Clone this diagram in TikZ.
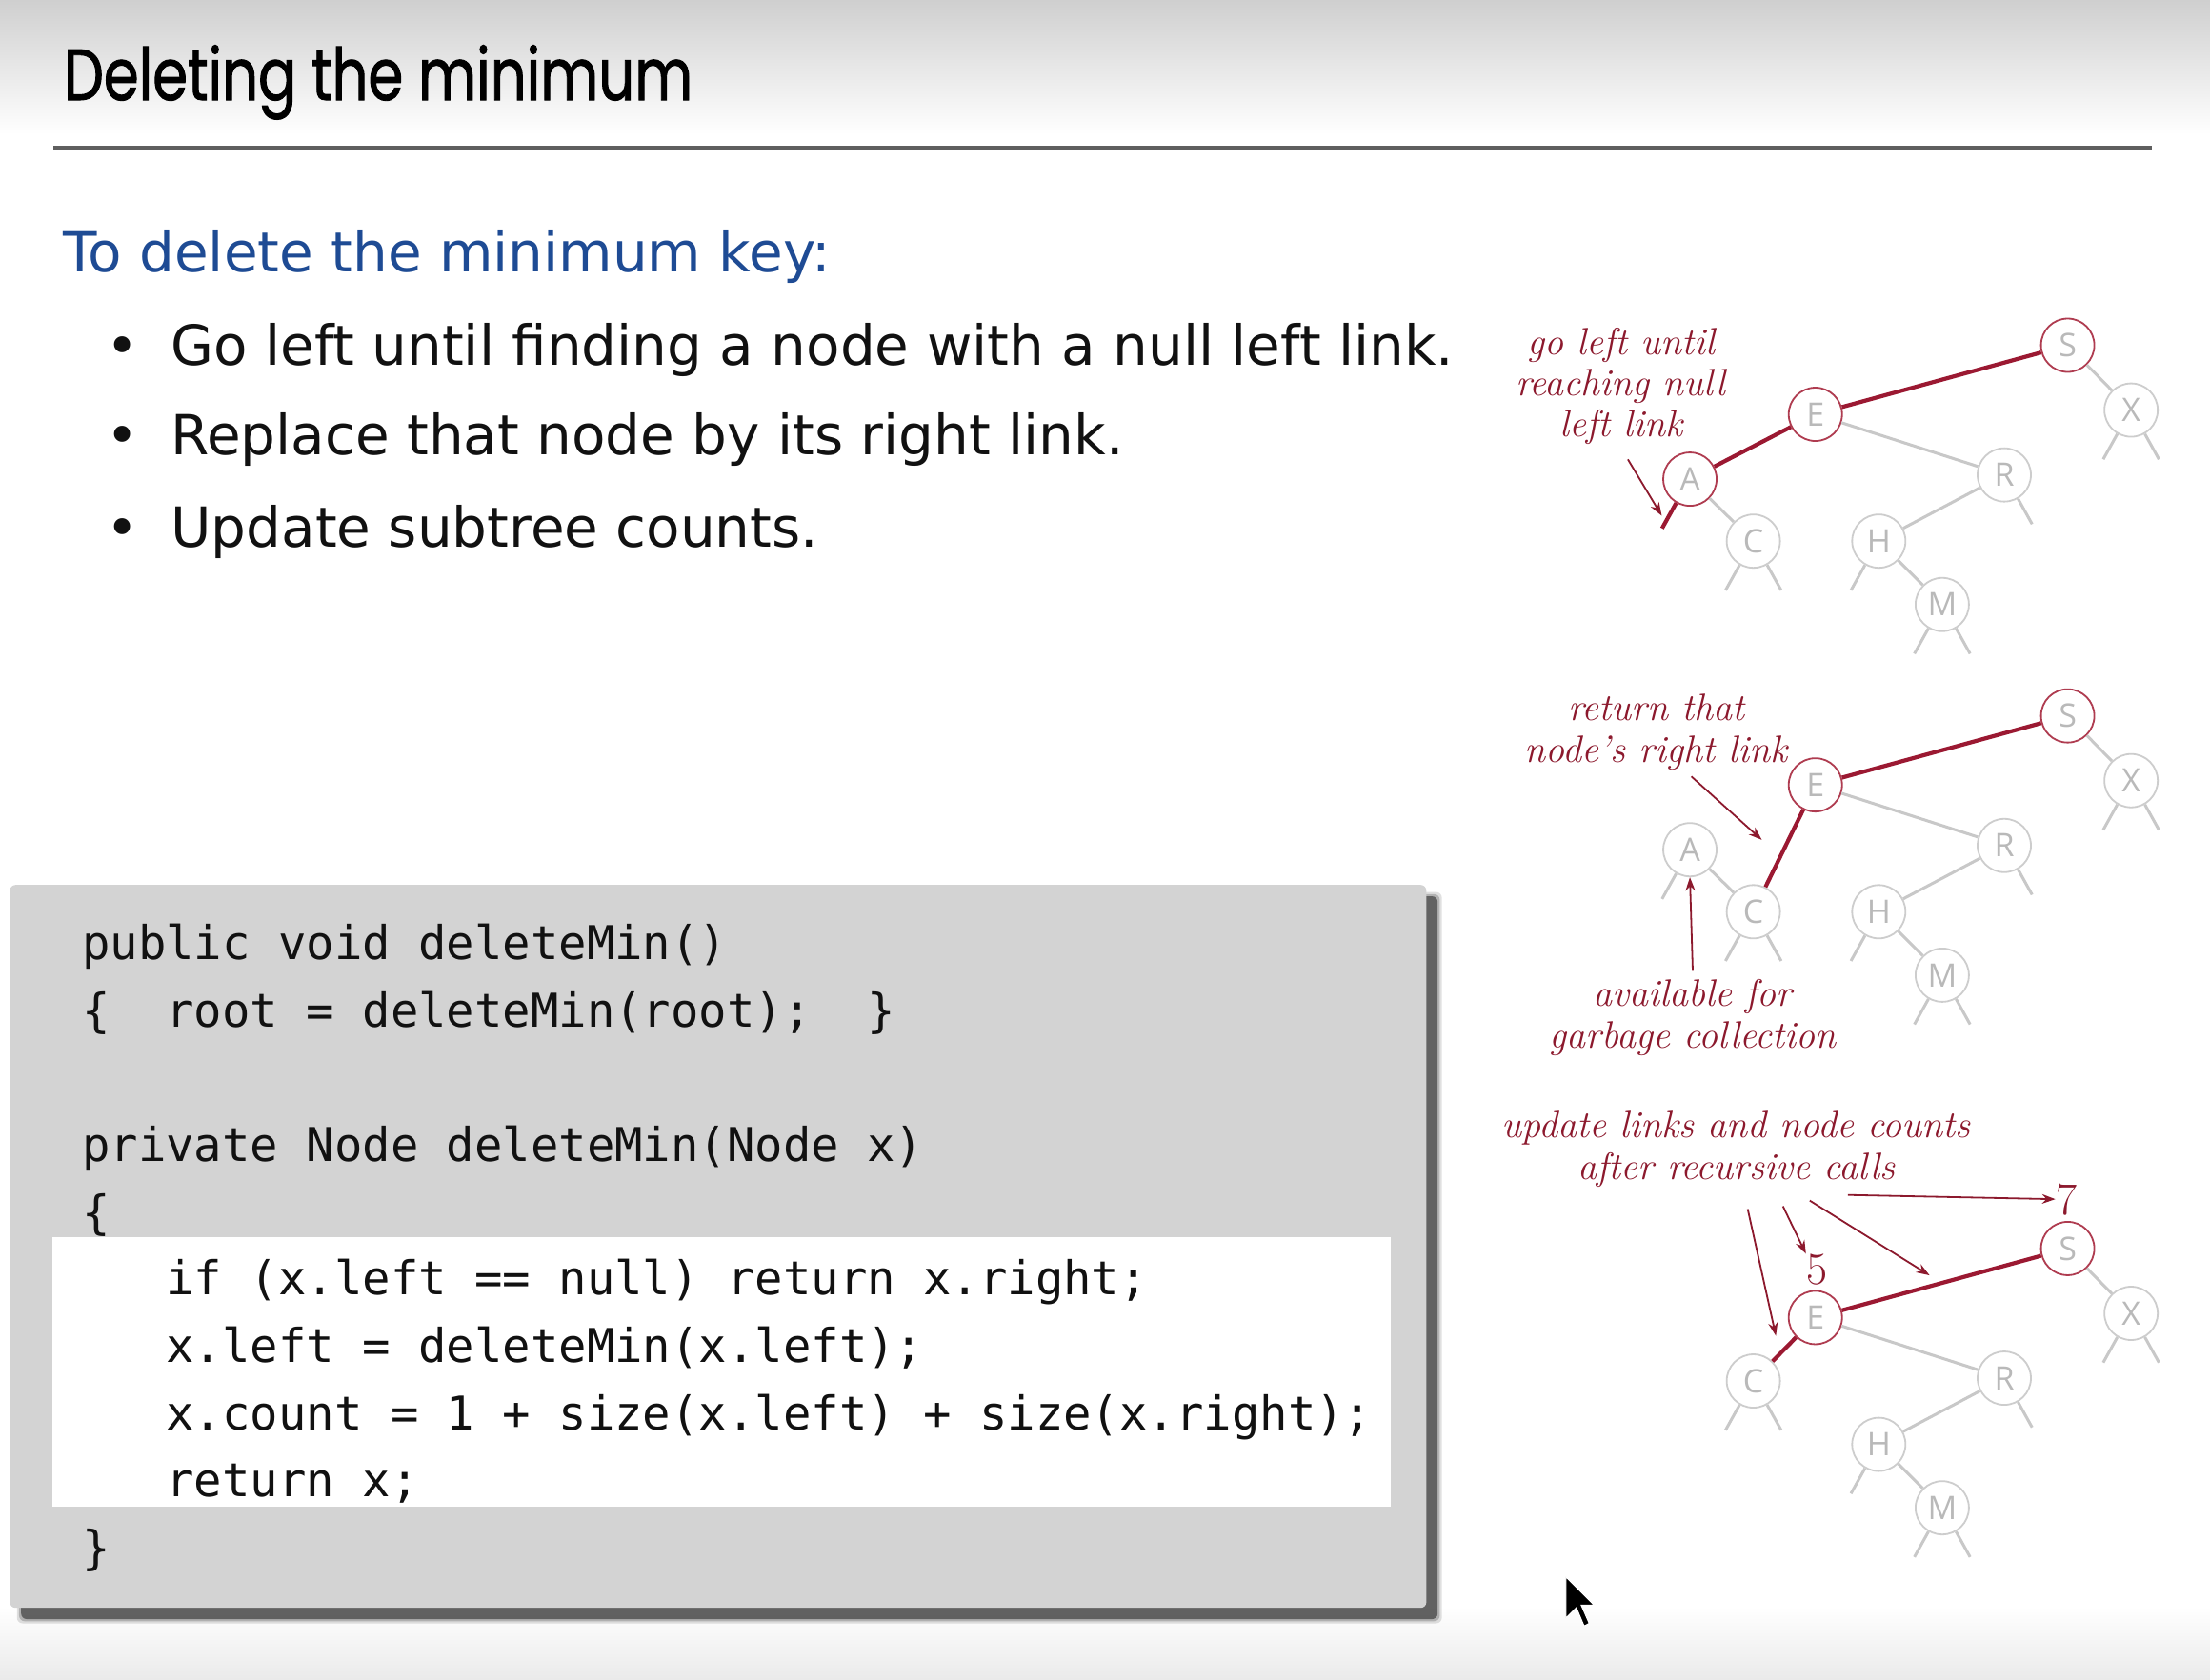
\documentclass[tikz,border=0pt]{standalone}
\usepackage{fontspec}
\newfontfamily\titlefont[FakeStretch=0.78,FakeBold=1.2]{Poppins}
\newfontfamily\bodyfont{DejaVu Sans}
\newfontfamily\codefont{DejaVu Sans Mono}
\newfontfamily\keyfont{Open Sans}
\usetikzlibrary{arrows.meta}

\definecolor{bgtop}{RGB}{207,207,207}
\definecolor{bgbot}{RGB}{234,234,234}
\definecolor{rulegray}{RGB}{95,95,95}
\definecolor{headblue}{RGB}{30,75,148}
\definecolor{inkblack}{RGB}{17,17,17}
\definecolor{codebg}{RGB}{211,211,211}
\definecolor{linkred}{RGB}{155,25,50}
\definecolor{nodered}{RGB}{175,60,80}
\definecolor{notered}{RGB}{140,25,45}
\definecolor{linkgray}{RGB}{200,200,200}
\definecolor{nodegray}{RGB}{205,205,205}
\definecolor{keygray}{RGB}{185,185,185}

% null-link stubs hanging below a tree node
\newcommand\lstub[2][gedge]{\draw[#1] (#2.240) -- ++(-10,18);}
\newcommand\rstub[2][gedge]{\draw[#1] (#2.300) -- ++(10,18);}

\begin{document}
\begin{tikzpicture}[x=0.7398pt,y=-0.7398pt,
  gnode/.style={circle, draw=nodegray, fill=white, line width=0.9pt,
    minimum size=28pt, inner sep=0pt, text=keygray,
    font=\keyfont\fontsize{17}{17}\selectfont},
  rnode/.style={gnode, draw=nodered},
  redge/.style={draw=linkred, line width=2.1pt},
  gedge/.style={draw=linkgray, line width=1.5pt},
  note/.style={anchor=base, inner sep=0pt, text=notered,
    font=\itshape\fontsize{20}{20}\selectfont},
  count/.style={anchor=center, inner sep=0pt, text=notered,
    font=\normalfont\fontsize{24}{24}\selectfont},
  notearrow/.style={draw=notered, line width=0.9pt,
    -{Stealth[length=7pt,width=5pt]}},
  codeline/.style={anchor=base west, inner sep=0pt, text=inkblack,
    font=\codefont\fontsize{24.45}{24.45}\selectfont},
  item/.style={anchor=base west, inner sep=0pt, text=inkblack,
    font=\bodyfont\fontsize{29}{29}\selectfont},
  dot/.style={anchor=base, inner sep=0pt, text=inkblack,
    font=\bodyfont\fontsize{29}{29}\selectfont}]

\useasboundingbox (0,0) rectangle (1568,1192);

% page background
\fill[white] (0,0) rectangle (1568,1192);
\shade[top color=bgtop, bottom color=white] (0,0) rectangle (1568,95);
\shade[top color=white, bottom color=bgbot] (0,1140) rectangle (1568,1192);

% heading
\node[anchor=base west, inner sep=0pt, text=black,
  font=\titlefont\fontsize{38}{38}\selectfont] (title) at (45,71) {Deleting the minimum};
\draw[rulegray, line width=2pt] (38,105) -- (1527,105);

% explanation
\node[anchor=base west, inner sep=0pt, text=headblue,
  font=\bodyfont\fontsize{29}{29}\selectfont] (lead) at (45,193) {To delete the minimum key:};
\node[dot] (b1) at (87,259) {•};
\node[item] (t1) at (121,259) {Go left until finding a node with a null left link.};
\node[dot] (b2) at (87,323) {•};
\node[item] (t2) at (121,323) {Replace that node by its right link.};
\node[dot] (b3) at (87,388) {•};
\node[item] (t3) at (121,388) {Update subtree counts.};

% code panel with its shadow
\foreach \d/\o in {3/0.12,1.5/0.2,0/0.45}
  \fill[black, opacity=\o, rounded corners=3pt] (15-\d,636-\d) rectangle (1020+\d,1149+\d);
\fill[codebg, rounded corners=3pt] (7,628) rectangle (1012,1141);
\fill[white] (37,878) rectangle (987,1069);

\node[codeline] (c1) at (58,681) {public void deleteMin()};
\node[codeline] (c2) at (58,729) {\{~~root = deleteMin(root);~~\}};
\node[codeline] (c3) at (58,824) {private Node deleteMin(Node x)};
\node[codeline] (c4) at (58,872) {\{};
\node[codeline] (c5) at (58,919) {~~~if (x.left == null) return x.right;};
\node[codeline] (c6) at (58,967) {~~~x.left = deleteMin(x.left);};
\node[codeline] (c7) at (58,1015) {~~~x.count = 1 + size(x.left) + size(x.right);};
\node[codeline] (c8) at (58,1062) {~~~return x;};
\node[codeline] (c9) at (58,1110) {\}};

% ---- tree 1: walking left
\node[rnode] (s1) at (1467,245) {S};
\node[gnode] (x1) at (1512,291) {X};
\node[rnode] (e1) at (1288,294) {E};
\node[gnode] (r1) at (1422,337) {R};
\node[rnode] (a1) at (1199,340) {A};
\node[gnode] (k1) at (1244,384) {C};
\node[gnode] (h1) at (1333,384) {H};
\node[gnode] (m1) at (1378,429) {M};
\draw[redge] (s1) -- (e1);
\draw[redge] (e1) -- (a1);
\draw[gedge] (s1) -- (x1);
\draw[gedge] (e1) -- (r1);
\draw[gedge] (r1) -- (h1);
\draw[gedge] (h1) -- (m1);
\draw[gedge] (a1) -- (k1);
\lstub[redge]{a1}
\lstub{x1}\rstub{x1}
\rstub{r1}
\lstub{k1}\rstub{k1}
\lstub{h1}
\lstub{m1}\rstub{m1}

\node[note] (n1a) at (1150,252) {go left until};
\node[note] (n1b) at (1150,281) {reaching null};
\node[note] (n1c) at (1150,310) {left link};
\coordinate (p1s) at (1155,326);
\coordinate (p1e) at (1179,366);
\draw[notearrow] (p1s) -- (p1e);

% ---- tree 2: splicing out the minimum
\node[rnode] (s2) at (1467,508) {S};
\node[gnode] (x2) at (1512,554) {X};
\node[rnode] (e2) at (1288,557) {E};
\node[gnode] (r2) at (1422,600) {R};
\node[gnode] (a2) at (1199,603) {A};
\node[gnode] (k2) at (1244,647) {C};
\node[gnode] (h2) at (1333,647) {H};
\node[gnode] (m2) at (1378,692) {M};
\draw[redge] (s2) -- (e2);
\draw[redge] (e2) -- (k2);
\draw[gedge] (s2) -- (x2);
\draw[gedge] (e2) -- (r2);
\draw[gedge] (r2) -- (h2);
\draw[gedge] (h2) -- (m2);
\draw[gedge] (a2) -- (k2);
\lstub{a2}
\lstub{x2}\rstub{x2}
\rstub{r2}
\lstub{k2}\rstub{k2}
\lstub{h2}
\lstub{m2}\rstub{m2}

\node[note] (n2a) at (1175,511) {return that};
\node[note] (n2b) at (1175,541) {node's right link};
\coordinate (p2s) at (1200,551);
\coordinate (p2e) at (1250,596);
\draw[notearrow] (p2s) -- (p2e);
\node[note] (n2c) at (1201,714) {available for};
\node[note] (n2d) at (1201,744) {garbage collection};
\coordinate (p3s) at (1201,689);
\draw[notearrow] (p3s) -- (a2.south);

% ---- tree 3: links and counts fixed on the way up
\node[rnode] (s3) at (1467,886) {S};
\node[gnode] (x3) at (1512,932) {X};
\node[rnode] (e3) at (1288,935) {E};
\node[gnode] (r3) at (1422,978) {R};
\node[gnode] (k3) at (1244,980) {C};
\node[gnode] (h3) at (1333,1025) {H};
\node[gnode] (m3) at (1378,1070) {M};
\draw[redge] (s3) -- (e3);
\draw[redge] (e3) -- (k3);
\draw[gedge] (s3) -- (x3);
\draw[gedge] (e3) -- (r3);
\draw[gedge] (r3) -- (h3);
\draw[gedge] (h3) -- (m3);
\lstub{x3}\rstub{x3}
\rstub{r3}
\lstub{k3}\rstub{k3}
\lstub{h3}
\lstub{m3}\rstub{m3}

\node[count] (cnt7) at (1466,851) {7};
\node[count] (cnt5) at (1289,901) {5};
\node[note] (n3a) at (1232,807) {update links and node counts};
\node[note] (n3b) at (1232,837) {after recursive calls};
\coordinate (q1) at (1311,848);
\coordinate (q2) at (1284,852);
\coordinate (q2e) at (1369,905);
\coordinate (q3) at (1265,856);
\coordinate (q4) at (1240,858);
\coordinate (q4e) at (1260,948);
\draw[notearrow] (q1) -- (cnt7.west);
\draw[notearrow] (q2) -- (q2e);
\draw[notearrow] (q3) -- (cnt5.north west);
\draw[notearrow] (q4) -- (q4e);

% mouse pointer
\fill[black, draw=white, line width=0.6pt] (1111,1119) -- (1111,1148.4) -- (1118.4,1141)
  -- (1123.9,1154) -- (1127.6,1152) -- (1122,1139.2) -- (1131.2,1139.2) -- cycle;
\end{tikzpicture}
\end{document}
